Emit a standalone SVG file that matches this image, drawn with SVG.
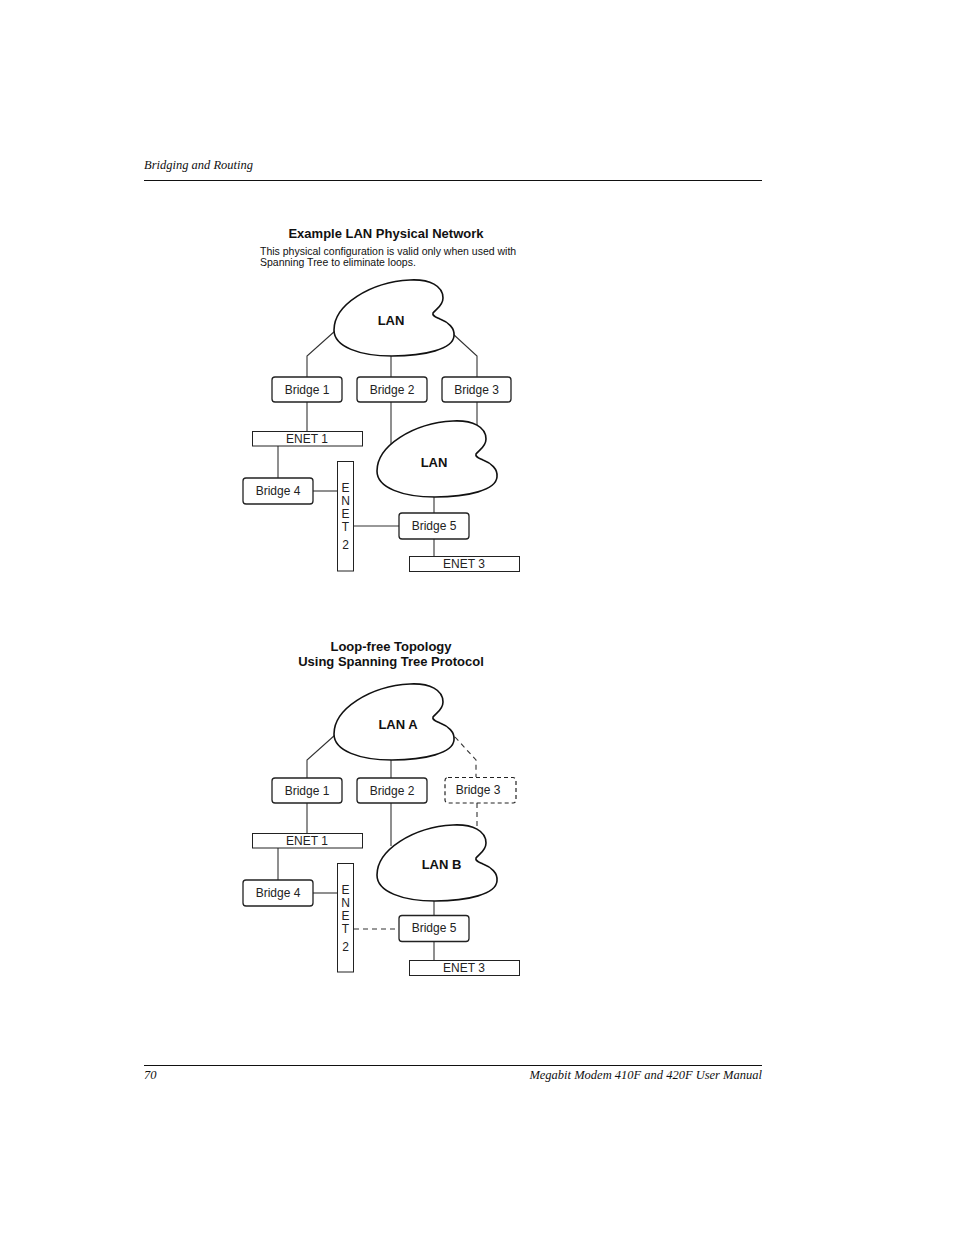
<svg xmlns="http://www.w3.org/2000/svg" width="954" height="1235" viewBox="0 0 954 1235">
<defs>
<style>
.hdr{font-family:"Liberation Serif",serif;font-style:italic;font-size:12.5px;fill:#111}
.rule{stroke:#111;stroke-width:1}
.ttl{font-family:"Liberation Sans",Arial,sans-serif;font-weight:bold;font-size:13px;fill:#111;text-anchor:middle}
.sub{font-family:"Liberation Sans",Arial,sans-serif;font-size:10.5px;fill:#111}
.lbl{font-family:"Liberation Sans",Arial,sans-serif;font-size:12px;fill:#222;text-anchor:middle}
.lan{font-family:"Liberation Sans",Arial,sans-serif;font-weight:bold;font-size:13px;fill:#111;text-anchor:middle}
.br{fill:#fff;stroke:#222;stroke-width:1.3}
.brd{fill:#fff;stroke:#222;stroke-width:1.2;stroke-dasharray:4,3}
.net{fill:#fff;stroke:#222;stroke-width:1}
.cl{fill:#fff;stroke:#111;stroke-width:1.6}
.ln{fill:none;stroke:#333;stroke-width:1.1}
.dl{fill:none;stroke:#333;stroke-width:1.1;stroke-dasharray:5,4}
</style>
<path id="cloud" d="M334,330 C334,305 370,282 410,280 C430,279 443,286 443,298 C443,306 436,309 433,313 C432,316 436,317 440,319 C448,322 455,328 454,336 C453,349 425,356 392,356 C360,356 334,347 334,330 Z"/>
</defs>

<g id="page">
<text class="hdr" x="144" y="169">Bridging and Routing</text>
<line class="rule" x1="144" y1="180.5" x2="762" y2="180.5"/>
<line class="rule" x1="144" y1="1065.5" x2="762" y2="1065.5"/>
<text class="hdr" x="144" y="1079">70</text>
<text class="hdr" x="762" y="1079" text-anchor="end">Megabit Modem 410F and 420F User Manual</text>
</g>

<g id="titles">
<text class="ttl" x="386" y="238">Example LAN Physical Network</text>
<text class="sub" x="260" y="255">This physical configuration is valid only when used with</text>
<text class="sub" x="260" y="266">Spanning Tree to eliminate loops.</text>
<text class="ttl" x="391" y="651">Loop-free Topology</text>
<text class="ttl" x="391" y="666">Using Spanning Tree Protocol</text>
</g>

<g id="connectors">
<!-- diagram 1 -->
<polyline class="ln" points="335,331 307,356 307,377"/>
<line class="ln" x1="391" y1="356" x2="391" y2="377"/>
<polyline class="ln" points="453,334 477,356 477,377"/>
<line class="ln" x1="307" y1="402" x2="307" y2="431"/>
<line class="ln" x1="391" y1="402" x2="391" y2="444"/>
<line class="ln" x1="477" y1="402" x2="477" y2="427"/>
<line class="ln" x1="278" y1="446" x2="278" y2="478"/>
<line class="ln" x1="313" y1="491" x2="337" y2="491"/>
<line class="ln" x1="353" y1="526" x2="399" y2="526"/>
<line class="ln" x1="434" y1="497" x2="434" y2="513"/>
<line class="ln" x1="434" y1="539" x2="434" y2="556"/>
<!-- diagram 2 -->
<polyline class="ln" points="335,735 307,760 307,778"/>
<line class="ln" x1="391" y1="760" x2="391" y2="778"/>
<polyline class="dl" points="455,737 476,760 476,777"/>
<line class="ln" x1="307" y1="803" x2="307" y2="833"/>
<line class="ln" x1="391" y1="803" x2="391" y2="846"/>
<line class="dl" x1="477" y1="803" x2="477" y2="828"/>
<line class="ln" x1="278" y1="848" x2="278" y2="880"/>
<line class="ln" x1="313" y1="893" x2="337" y2="893"/>
<line class="dl" x1="354" y1="929" x2="399" y2="929"/>
<line class="ln" x1="434" y1="900" x2="434" y2="915"/>
<line class="ln" x1="434" y1="941" x2="434" y2="960"/>
</g>

<!-- Diagram 1 nodes -->
<g id="lan1">
<use href="#cloud" class="cl"/>
<text class="lan" x="391" y="325">LAN</text>
</g>
<g id="d1-bridge1"><rect class="br" x="272" y="377" width="70" height="25" rx="3"/><text class="lbl" x="307" y="393.5">Bridge 1</text></g>
<g id="d1-bridge2"><rect class="br" x="357" y="377" width="70" height="25" rx="3"/><text class="lbl" x="392" y="393.5">Bridge 2</text></g>
<g id="d1-bridge3"><rect class="br" x="442" y="377" width="69" height="25" rx="3"/><text class="lbl" x="476.5" y="393.5">Bridge 3</text></g>
<g id="d1-enet1"><rect class="net" x="252.5" y="431.5" width="110" height="14.5"/><text class="lbl" x="307" y="443">ENET 1</text></g>
<g id="lan2">
<use href="#cloud" class="cl" transform="translate(43,141)"/>
<text class="lan" x="434" y="467">LAN</text>
</g>
<g id="d1-bridge4"><rect class="br" x="243" y="478" width="70" height="26" rx="3"/><text class="lbl" x="278" y="495">Bridge 4</text></g>
<g id="d1-enet2"><rect class="net" x="337.5" y="461.5" width="16" height="109.5"/>
<text class="lbl" x="345.5" y="491.5">E</text><text class="lbl" x="345.5" y="504.5">N</text><text class="lbl" x="345.5" y="517.5">E</text><text class="lbl" x="345.5" y="530.5">T</text><text class="lbl" x="345.5" y="548.5">2</text></g>
<g id="d1-bridge5"><rect class="br" x="399" y="513" width="70" height="26" rx="3"/><text class="lbl" x="434" y="530">Bridge 5</text></g>
<g id="d1-enet3"><rect class="net" x="409.5" y="556.5" width="110" height="15"/><text class="lbl" x="464" y="568">ENET 3</text></g>

<!-- Diagram 2 nodes -->
<g id="lanA">
<use href="#cloud" class="cl" transform="translate(0,404)"/>
<text class="lan" x="398" y="729">LAN A</text>
</g>
<g id="d2-bridge1"><rect class="br" x="272" y="778" width="70" height="25" rx="3"/><text class="lbl" x="307" y="795">Bridge 1</text></g>
<g id="d2-bridge2"><rect class="br" x="357" y="778" width="70" height="25" rx="3"/><text class="lbl" x="392" y="795">Bridge 2</text></g>
<g id="d2-bridge3"><rect class="brd" x="445" y="777.5" width="71" height="25.5" rx="3"/><text class="lbl" x="478" y="794">Bridge 3</text></g>
<g id="d2-enet1"><rect class="net" x="252.5" y="833.5" width="110" height="14.5"/><text class="lbl" x="307" y="845">ENET 1</text></g>
<g id="lanB">
<use href="#cloud" class="cl" transform="translate(43,545)"/>
<text class="lan" x="441.5" y="869">LAN B</text>
</g>
<g id="d2-bridge4"><rect class="br" x="243" y="880" width="70" height="26" rx="3"/><text class="lbl" x="278" y="897">Bridge 4</text></g>
<g id="d2-enet2"><rect class="net" x="337.5" y="863.5" width="16" height="108.5"/>
<text class="lbl" x="345.5" y="893.5">E</text><text class="lbl" x="345.5" y="906.5">N</text><text class="lbl" x="345.5" y="919.5">E</text><text class="lbl" x="345.5" y="932.5">T</text><text class="lbl" x="345.5" y="950.5">2</text></g>
<g id="d2-bridge5"><rect class="br" x="399" y="915.5" width="70" height="26" rx="3"/><text class="lbl" x="434" y="932">Bridge 5</text></g>
<g id="d2-enet3"><rect class="net" x="409.5" y="960.5" width="110" height="15"/><text class="lbl" x="464" y="972">ENET 3</text></g>
</svg>
